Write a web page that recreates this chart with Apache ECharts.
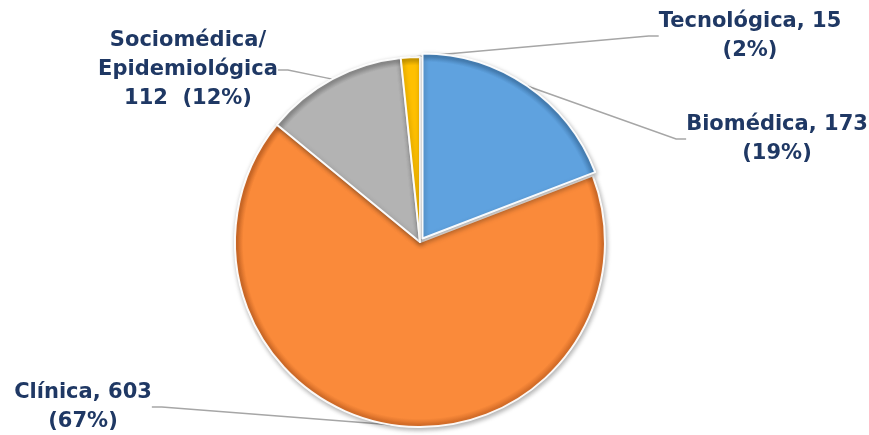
<!DOCTYPE html>
<html>
<head>
<meta charset="utf-8">
<script src="https://cdn.jsdelivr.net/npm/echarts@6/dist/echarts.min.js"></script>
<style>
html,body{margin:0;padding:0;background:#fff;}
#chart{width:869px;height:435px;}
</style>
</head>
<body>
<div id="chart"></div>
<script>
// Data
var categories = ['Biomédica', 'Clínica', 'Sociomédica/Epidemiológica', 'Tecnológica'];
var values = [173, 603, 112, 15];
var colors = ['#5FA2DF', '#FA8A3A', '#B3B3B3', '#FFC000'];
var rimColors = ['#4A86BE', '#D9702A', '#949494', '#D9A300'];
var explodedIndex = 0; // Biomédica slice pulled out

// Label anchor positions (centre of each text block), in px
var labelPos = [
  {x: 777, y: 139},
  {x: 83, y: 407},
  {x: 188, y: 70},
  {x: 750, y: 36}
];

var R = 185;
var mainCenter = [420, 242];
var explodedCenter = [422.5, 238.5];

var chart = echarts.init(document.getElementById('chart'));

var hiddenStyle = { color: 'rgba(0,0,0,0)', borderWidth: 0, shadowBlur: 0, shadowColor: 'rgba(0,0,0,0)' };

function fillFor(i, c) {
  return new echarts.graphic.RadialGradient(c[0], c[1], R, [
    { offset: 0, color: colors[i] },
    { offset: 0.955, color: colors[i] },
    { offset: 0.985, color: rimColors[i] },
    { offset: 1, color: rimColors[i] }
  ], true);
}

function buildData(visibleFn, c) {
  return categories.map(function (name, i) {
    var vis = visibleFn(i);
    return {
      name: name,
      value: values[i],
      itemStyle: vis ? {
        color: fillFor(i, c),
        borderColor: 'rgba(255,255,255,0.95)',
        borderWidth: 2,
        shadowBlur: 5,
        shadowColor: 'rgba(0,0,0,0.3)',
        shadowOffsetX: 1,
        shadowOffsetY: 2
      } : hiddenStyle,
      label: { show: vis },
      labelLine: { show: vis }
    };
  });
}

var labelCfg = {
  show: true,
  color: '#1F3864',
  fontFamily: 'DejaVu Sans',
  fontWeight: 'bold',
  fontSize: 21,
  lineHeight: 29,
  formatter: function (p) {
    if (p.name.indexOf('/') >= 0) {
      var parts = p.name.split('/');
      return parts[0] + '/\n' + parts[1] + '\n' + p.value + '  (' + p.percent.toFixed(0) + '%)';
    }
    return p.name + ', ' + p.value + '\n(' + p.percent.toFixed(0) + '%)';
  }
};
var labelLineCfg = {
  show: true,
  length: 10,
  length2: 10,
  lineStyle: { color: '#A6A6A6', width: 1.5 }
};
function layoutFn(params) {
  var p = labelPos[params.dataIndex];
  return { x: p.x, y: p.y, align: 'center', verticalAlign: 'middle' };
}

chart.setOption({
  animation: false,
  series: [{
    type: 'pie',
    center: mainCenter,
    radius: R,
    startAngle: 90,
    clockwise: true,
    data: buildData(function (i) { return i !== explodedIndex; }, mainCenter),
    emphasis: { disabled: true },
    label: labelCfg,
    labelLine: labelLineCfg,
    labelLayout: layoutFn
  }, {
    type: 'pie',
    center: explodedCenter,
    radius: R,
    startAngle: 90,
    clockwise: true,
    data: buildData(function (i) { return i === explodedIndex; }, explodedCenter),
    emphasis: { disabled: true },
    label: labelCfg,
    labelLine: labelLineCfg,
    labelLayout: layoutFn
  }]
});
</script>
</body>
</html>
